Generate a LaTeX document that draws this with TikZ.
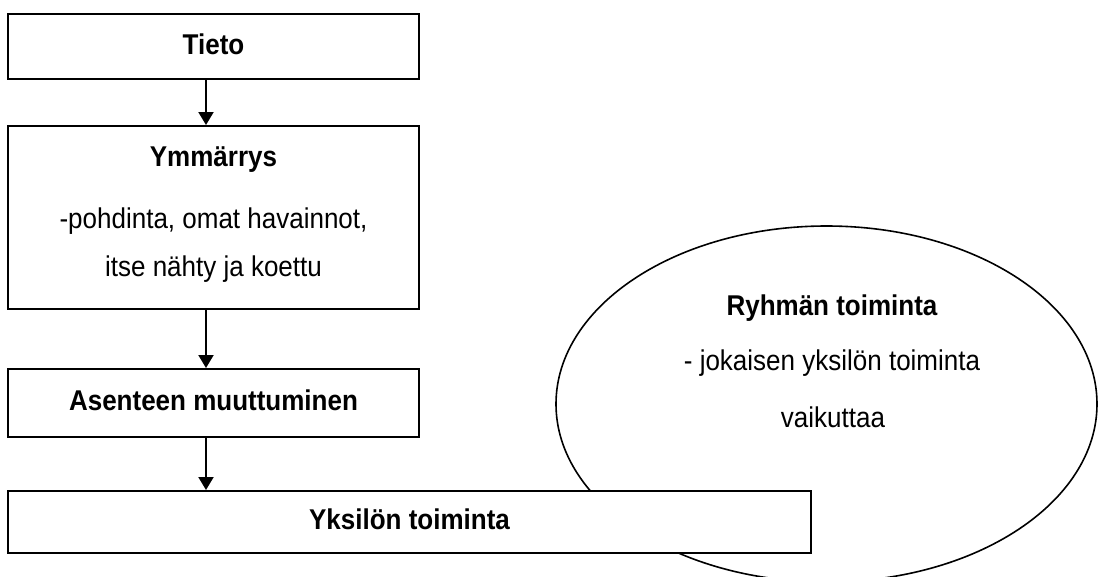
\documentclass[tikz,border=0pt]{standalone}
\usepackage{graphicx}
\usepackage{fontspec}
\setmainfont{Liberation Sans}
\usetikzlibrary{arrows.meta,shapes.geometric}
\newcommand\tallt[1]{\scalebox{1}[1.1]{#1}}
\begin{document}
\begin{tikzpicture}[x=1pt,y=-1pt,
  box/.style={draw,line width=2pt,fill=white,inner sep=0pt,
    font=\fontsize{26}{31}\selectfont\bfseries,text height=18pt,text depth=3pt},
  arr/.style={line width=2pt,-{Triangle[length=13pt,width=15pt]}},
  txt/.style={anchor=base,inner sep=0pt,font=\fontsize{26}{31}\selectfont},
  btxt/.style={txt,font=\fontsize{26}{31}\selectfont\bfseries}]
\useasboundingbox (0,0) rectangle (1098,576);
\clip (0,0) rectangle (1098,576);
% ellipse (behind the bottom box)
\node[draw,ellipse,line width=1.6pt,minimum width=541pt,minimum height=356pt,inner sep=0pt] (ryh) at (826.5,404) {};
\node[btxt] (ryh1) at (832,315) {\tallt{Ryhmän toiminta}};
\node[txt] (ryh2) at (832,370) {\tallt{- jokaisen yksilön toiminta}};
\node[txt] (ryh3) at (833,427) {\tallt{vaikuttaa}};
% boxes
\node[box,minimum width=411pt,minimum height=65pt] (tieto) at (213.5,46.5) {\tallt{Tieto}};
\node[box,minimum width=411pt,minimum height=183pt] (ymm) at (213.5,217.5) {};
\node[btxt] (ymm1) at (213.5,166) {\tallt{Ymmärrys}};
\node[txt] (ymm2) at (213.5,228) {\tallt{-pohdinta, omat havainnot,}};
\node[txt] (ymm3) at (213.5,276) {\tallt{itse nähty ja koettu}};
\node[box,minimum width=411pt,minimum height=68pt] (ase) at (213.5,403) {\tallt{Asenteen muuttuminen}};
\node[box,minimum width=803pt,minimum height=62pt] (yks) at (409.5,522) {\tallt{Yksilön toiminta}};
% arrows
\coordinate (ax) at (206,0);
\draw[arr] (tieto.south -| ax) -- (ymm.north -| ax);
\draw[arr] (ymm.south -| ax) -- (ase.north -| ax);
\draw[arr] (ase.south -| ax) -- (yks.north -| ax);
\end{tikzpicture}
\end{document}
